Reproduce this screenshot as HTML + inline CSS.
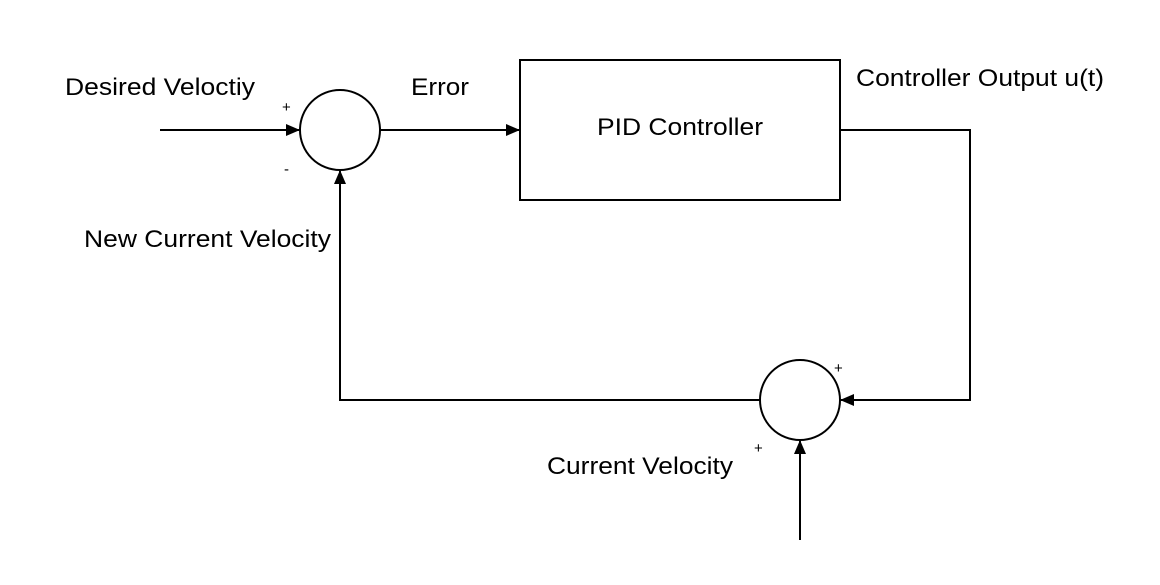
<!DOCTYPE html>
<html><head><style>body{margin:0;background:#fff}</style></head><body>
<svg width="1160" height="580" xmlns="http://www.w3.org/2000/svg" font-family="Liberation Sans, sans-serif">
<defs><marker id="a" markerWidth="14" markerHeight="12" refX="13" refY="6" orient="auto" markerUnits="userSpaceOnUse"><path d="M0,0 L14,6 L0,12 z" fill="#000"/></marker></defs>
<rect width="1160" height="580" fill="#fff"/>
<g stroke="#000" stroke-width="2" fill="none">
<circle cx="340" cy="130" r="40"/>
<circle cx="800" cy="400" r="40"/>
<rect x="520" y="60" width="320" height="140"/>
<line x1="160" y1="130" x2="299" y2="130" marker-end="url(#a)"/>
<line x1="380" y1="130" x2="519" y2="130" marker-end="url(#a)"/>
<polyline points="840,130 970,130 970,400 841,400" marker-end="url(#a)"/>
<polyline points="760,400 340,400 340,171" marker-end="url(#a)"/>
<line x1="800" y1="540" x2="800" y2="441" marker-end="url(#a)"/>
</g>
<g font-size="24" fill="#000">
<text x="65" y="95" textLength="190" lengthAdjust="spacingAndGlyphs">Desired Veloctiy</text>
<text x="411" y="95" textLength="58" lengthAdjust="spacingAndGlyphs">Error</text>
<text x="856" y="86" textLength="248" lengthAdjust="spacingAndGlyphs">Controller Output u(t)</text>
<text x="597" y="135" textLength="166" lengthAdjust="spacingAndGlyphs">PID Controller</text>
<text x="84" y="247" textLength="247" lengthAdjust="spacingAndGlyphs">New Current Velocity</text>
<text x="547" y="474" textLength="186" lengthAdjust="spacingAndGlyphs">Current Velocity</text>
</g>
<g font-size="15" fill="#000">
<text x="282" y="112">+</text>
<text x="284" y="174">-</text>
<text x="834" y="373">+</text>
<text x="754" y="453">+</text>
</g>
</svg>
</body></html>
